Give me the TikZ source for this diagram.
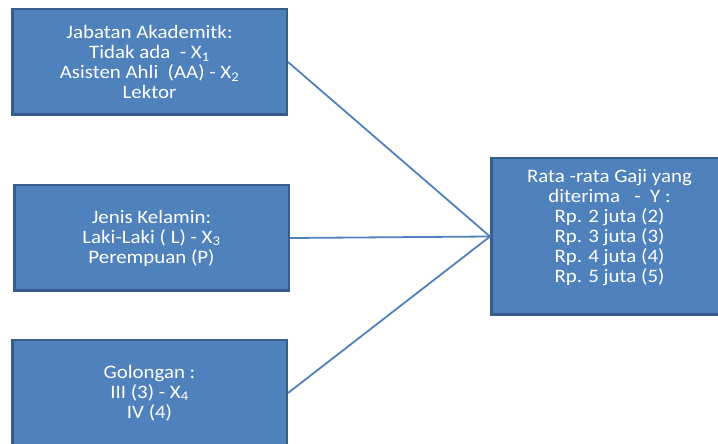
\documentclass[tikz,border=0pt]{standalone}
\usepackage{fontspec}
\setmainfont{Carlito}[FakeStretch=1.1]
\definecolor{boxfill}{HTML}{4F81BD}
\definecolor{boxline}{HTML}{385D8A}
\begin{document}
\begin{tikzpicture}[x=1pt,y=1pt,
  box/.style={draw=boxline, line width=2.5pt, fill=boxfill, rectangle, inner sep=0pt},
  txt/.style={text=white, align=center, font=\fontsize{19}{20}\selectfont, inner sep=0pt},
  conn/.style={draw=boxfill, line width=1.8pt}]
\useasboundingbox (0,0) rectangle (718,444);
\clip (0,0) rectangle (718,444);
\node[box, minimum width=274.5pt, minimum height=105.5pt] (b1) at (149.5,382) {};
\node[txt] (t1) at (b1.center) {Jabatan Akademitk:\\Tidak ada\ \ - X\textsubscript{1}\\Asisten Ahli\ \ (AA) - X\textsubscript{2}\\Lektor};
\node[box, minimum width=274.5pt, minimum height=105.5pt] (b2) at (151.5,206) {};
\node[txt] (t2) at (b2.center) {Jenis Kelamin:\\Laki-Laki ( L) - X\textsubscript{3}\\Perempuan (P)};
\node[box, minimum width=274.5pt, minimum height=105.5pt] (b3) at (149.5,51) {};
\node[txt] (t3) at (b3.center) {Golongan :\\III (3) - X\textsubscript{4}\\IV (4)};
\node[box, minimum width=236.5pt, minimum height=156.5pt] (y) at (609.5,207.5) {};
\node[txt] (ty) at ([yshift=9pt]y.center) {Rata -rata Gaji yang\\diterima\ \ \ -\ \ Y :\\Rp. 2 juta (2)\\Rp. 3 juta (3)\\Rp. 4 juta (4)\\Rp. 5 juta (5)};
\draw[conn] (b1.east) -- (y.west);
\draw[conn] (b2.east) -- (y.west);
\draw[conn] (b3.east) -- (y.west);
\end{tikzpicture}
\end{document}
